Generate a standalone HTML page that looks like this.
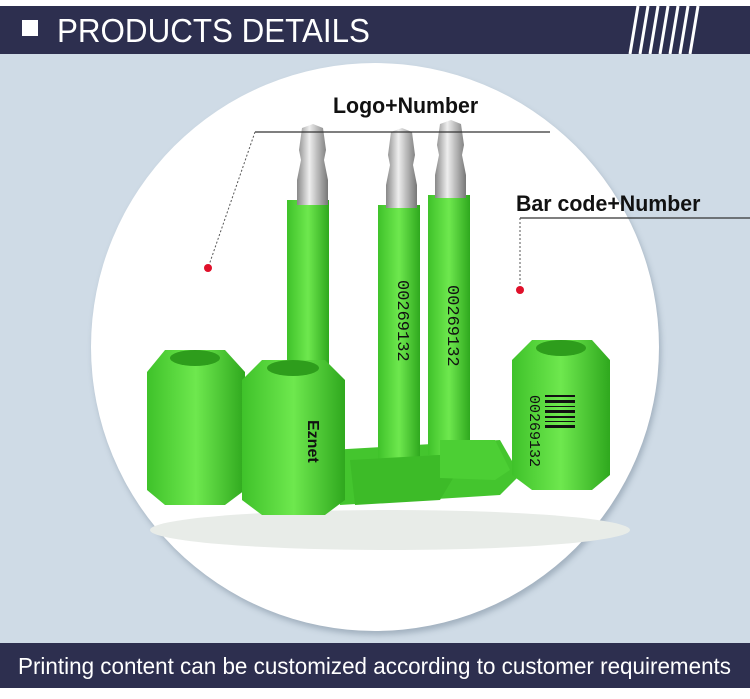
<!DOCTYPE html>
<html><head><meta charset="utf-8"><style>
html,body{margin:0;padding:0}
body{width:750px;height:699px;background:#fff;position:relative;overflow:hidden;font-family:"Liberation Sans",sans-serif}
.bg{position:absolute;left:0;top:54px;width:750px;height:589px;background:#cfdbe6}
.hdr{position:absolute;left:0;top:6px;width:750px;height:48px;background:#2d2f4f}
.sq{position:absolute;left:22px;top:14px;width:16px;height:16px;background:#fff}
.ht{position:absolute;left:57px;top:6px;color:#fff;font-size:33px;transform:scaleX(0.95);transform-origin:left;white-space:nowrap}
.ftr{position:absolute;left:0;top:643px;width:750px;height:45px;background:#2d2f4f}
.ft{position:absolute;left:18px;top:10px;color:#fff;font-size:23px;transform:scaleX(0.975);transform-origin:left;white-space:nowrap}
.circ{position:absolute;left:91px;top:63px;width:568px;height:568px;border-radius:50%;background:#fff;box-shadow:2px 4px 6px rgba(80,100,120,.35)}
.lbl{position:absolute;font-weight:bold;font-size:22px;color:#111;transform:scaleX(0.97);transform-origin:left;white-space:nowrap}
</style></head><body>
<div class="bg"></div>
<div class="hdr"><div class="sq"></div><div class="ht">PRODUCTS DETAILS</div>
<svg style="position:absolute;left:620px;top:0" width="90" height="48"><g stroke="#fff" stroke-width="3">
<line x1="10" y1="48" x2="18" y2="0"/><line x1="20" y1="48" x2="28" y2="0"/><line x1="30" y1="48" x2="38" y2="0"/><line x1="40" y1="48" x2="48" y2="0"/><line x1="50" y1="48" x2="58" y2="0"/><line x1="60" y1="48" x2="68" y2="0"/><line x1="70" y1="48" x2="78" y2="0"/></g></svg></div>
<div class="circ"></div>
<svg style="position:absolute;left:0;top:0" width="750" height="699">
<defs>
<linearGradient id="g" x1="0" x2="1"><stop offset="0" stop-color="#3fc22a"/><stop offset=".5" stop-color="#6ee84e"/><stop offset="1" stop-color="#2fa81e"/></linearGradient>
<linearGradient id="m" x1="0" x2="1"><stop offset="0" stop-color="#888"/><stop offset=".4" stop-color="#eee"/><stop offset="1" stop-color="#777"/></linearGradient>
</defs>
<ellipse cx="390" cy="530" rx="240" ry="20" fill="#e8ece8"/>
<path d="M330 450 L500 440 L520 475 L500 495 L340 505 Z" fill="#44c52e"/>
<rect x="287" y="200" width="42" height="200" fill="url(#g)"/>
<rect x="378" y="205" width="42" height="265" fill="url(#g)"/>
<rect x="428" y="195" width="42" height="260" fill="url(#g)"/>
<path d="M350 460 L440 455 L455 475 L440 500 L355 505 Z" fill="#3dbb28"/>
<path d="M440 440 L495 440 L510 470 L495 480 L440 478 Z" fill="#4ccf34"/>
<path d="M297 205 L297 180 L301 160 L299 150 L302 128 L313 124 L323 128 L326 150 L324 160 L328 180 L328 205 Z" fill="url(#m)"/>
<path d="M386 208 L386 185 L390 165 L388 155 L391 132 L402 128 L412 132 L415 155 L413 165 L417 185 L417 208 Z" fill="url(#m)"/>
<path d="M435 198 L435 175 L439 155 L437 145 L440 124 L451 120 L461 124 L464 145 L462 155 L466 175 L466 198 Z" fill="url(#m)"/>
<path d="M147 372 L165 350 L225 350 L245 372 L245 490 L225 505 L165 505 L147 490 Z" fill="url(#g)"/>
<ellipse cx="195" cy="358" rx="25" ry="8" fill="#2e9d1c"/>
<path d="M242 380 L262 360 L325 360 L345 380 L345 500 L325 515 L262 515 L242 500 Z" fill="url(#g)"/>
<ellipse cx="293" cy="368" rx="26" ry="8" fill="#2e9d1c"/>
<path d="M512 360 L532 340 L592 340 L610 360 L610 475 L592 490 L532 490 L512 475 Z" fill="url(#g)"/>
<ellipse cx="561" cy="348" rx="25" ry="8" fill="#2e9d1c"/>
<g fill="#111" font-family="Liberation Mono,monospace" font-size="17">
<text transform="translate(398,280) rotate(90)">00269132</text>
<text transform="translate(448,285) rotate(90)">00269132</text>
<text transform="translate(530,395) rotate(90)" font-size="15">00269132</text>
<text transform="translate(308,420) rotate(90)" font-family="Liberation Sans,sans-serif" font-weight="bold" font-size="16">Eznet</text>
</g>
<g fill="#111"><rect x="545" y="395" width="30" height="2"/><rect x="545" y="400" width="30" height="3"/><rect x="545" y="406" width="30" height="1"/><rect x="545" y="410" width="30" height="3"/><rect x="545" y="416" width="30" height="2"/><rect x="545" y="421" width="30" height="1"/><rect x="545" y="425" width="30" height="3"/></g>
<line x1="255" y1="132" x2="550" y2="132" stroke="#333" stroke-width="1.3"/>
<line x1="255" y1="132" x2="208" y2="268" stroke="#555" stroke-width="1" stroke-dasharray="2,2"/>
<circle cx="208" cy="268" r="4" fill="#e0102a"/>
<line x1="520" y1="218" x2="750" y2="218" stroke="#333" stroke-width="1.3"/>
<line x1="520" y1="218" x2="520" y2="290" stroke="#555" stroke-width="1" stroke-dasharray="2,2"/>
<circle cx="520" cy="290" r="4" fill="#e0102a"/>
</svg>
<div class="lbl" style="left:333px;top:93px">Logo+Number</div>
<div class="lbl" style="left:516px;top:191px">Bar code+Number</div>
<div class="ftr"><div class="ft">Printing content can be customized according to customer requirements</div></div>
</body></html>
